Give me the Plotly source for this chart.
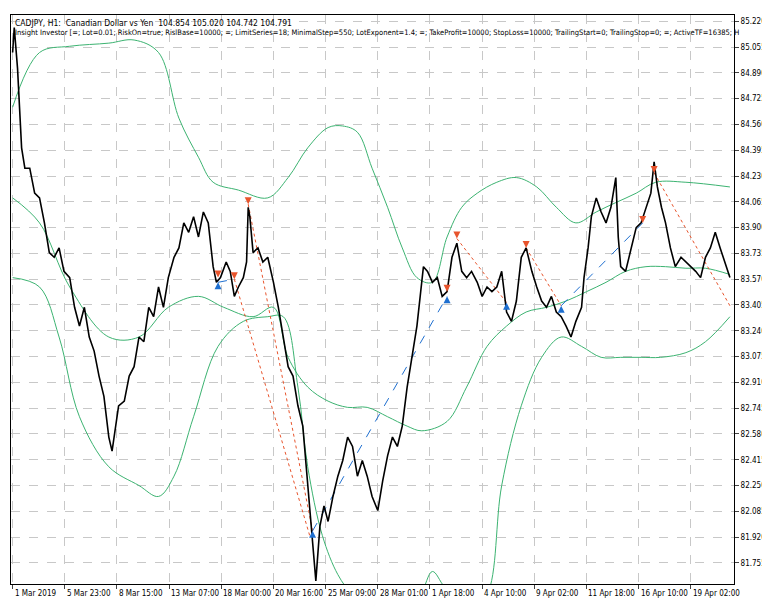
import plotly.graph_objects as go

price_x = [0,2,6,11,15,21,27,33,39,45,51,57,63,70,76,82,88,94,100,106,112,118,122,126,130,137,143,149,155,161,167,173,179,185,191,198,204,210,216,222,228,234,240,246,250,255,262,267,272,277,283,287,289,291,295,301,307,313,320,326,332,338,344,350,356,360,365,368,372,377,382,387,393,399,405,411,417,423,429,435,441,448,454,460,466,472,478,484,490,496,500,504,509,515,521,527,533,539,545,551,557,563,570,576,582,588,594,600,606,612,618,624,630,637,643,649,655,661,667,673,679,685,691,698,701,706,710,716,722,728,734,740,743,746,752,759,765,771,777,783,787,791,796,801,807,813,820,826,832,838,844,850,856,862,868,874,880]
price_y = [85.02,85.18,84.92,84.41,84.28,84.28,84.12,84.09,83.93,83.74,83.71,83.77,83.62,83.58,83.39,83.27,83.39,83.20,83.11,82.95,82.82,82.56,82.47,82.63,82.76,82.79,82.95,83.01,83.20,83.17,83.39,83.33,83.52,83.39,83.58,83.71,83.77,83.93,83.87,83.97,83.84,84.00,83.93,83.65,83.55,83.58,83.68,83.62,83.46,83.52,83.58,83.68,84.03,83.97,83.74,83.77,83.68,83.71,83.55,83.39,83.20,83.01,82.95,82.76,82.63,82.37,82.06,81.87,81.64,81.99,82.12,82.02,82.18,82.31,82.41,82.56,82.50,82.31,82.41,82.31,82.18,82.09,82.28,82.44,82.56,82.50,82.63,82.88,83.07,83.27,83.46,83.65,83.62,83.55,83.58,83.46,83.49,83.71,83.80,83.62,83.58,83.62,83.55,83.46,83.52,83.49,83.52,83.62,83.36,83.30,83.43,83.71,83.77,83.62,83.52,83.43,83.39,83.46,83.36,83.33,83.27,83.20,83.30,83.39,83.58,83.77,83.97,84.09,84.00,83.93,84.03,84.22,83.84,83.65,83.62,83.77,83.90,83.93,84.03,84.12,84.32,84.16,84.03,83.93,83.77,83.65,83.71,83.68,83.65,83.62,83.58,83.71,83.77,83.87,83.77,83.68,83.58]

upper_x = [0,33,70,118,149,179,204,228,246,277,313,338,362,387,405,423,441,460,478,496,515,533,551,570,594,618,643,667,691,716,740,765,789,826,880]
upper_y = [84.67,85.02,85.06,85.08,85.10,85.02,84.60,84.35,84.19,84.14,84.09,84.22,84.41,84.54,84.55,84.51,84.28,84.03,83.77,83.58,83.55,83.84,84.03,84.12,84.19,84.22,84.16,84.03,83.93,84.00,84.06,84.12,84.19,84.19,84.16]
mid_x = [0,33,70,118,155,191,228,259,295,320,338,362,387,411,435,460,484,502,533,557,582,606,630,655,679,704,728,752,777,801,826,850,880]
mid_y = [84.09,83.93,83.52,83.20,83.20,83.39,83.46,83.39,83.33,83.39,83.07,82.88,82.79,82.75,82.75,82.69,82.63,82.60,82.66,82.88,83.14,83.27,83.36,83.39,83.43,83.49,83.55,83.62,83.65,83.65,83.64,83.64,83.60]
lower_x = [0,33,57,82,118,155,179,198,222,252,283,313,332,350,362,380,399,417,440,470,500,515,530,560,582,600,624,649,673,698,722,746,771,795,826,850,880]
lower_y = [83.58,83.52,83.20,82.69,82.37,82.25,82.18,82.31,82.69,83.14,83.30,83.33,83.33,82.88,82.37,81.93,81.68,81.55,81.45,81.40,81.55,81.70,81.60,81.45,81.55,82.25,82.76,83.07,83.20,83.14,83.07,83.07,83.07,83.07,83.10,83.17,83.33]

sell_x = [289,272,252,533,545,630,773,787]
sell_y = [84.05,83.57,83.58,83.49,83.83,83.77,83.93,84.25]
buy_x = [252,368,606,673,533]
buy_y = [83.55,81.96,83.42,83.40,83.46]
red_lines = [((289,84.05),(368,81.96)),((272,83.57),(365,81.92)),((545,83.83),(606,83.42)),((630,83.77),(673,83.40)),((787,84.25),(880,83.40))]
blue_lines = [((368,81.96),(533,83.46)),((673,83.40),(773,83.93)),((252,83.55),(272,83.57))]

tick_pos = [0,64,128,192,256,320,384,448,512,576,640,704,768,832]
tick_txt = ["1 Mar 2019","5 Mar 23:00","8 Mar 15:00","13 Mar 07:00","18 Mar 00:00","20 Mar 16:00","25 Mar 09:00","28 Mar 01:00","1 Apr 18:00","4 Apr 10:00","9 Apr 02:00","11 Apr 18:00","16 Apr 10:00","19 Apr 02:00"]
y_ticks = [85.220,85.055,84.890,84.725,84.560,84.395,84.230,84.065,83.900,83.735,83.570,83.405,83.240,83.075,82.910,82.745,82.580,82.415,82.250,82.085,81.920,81.755]

green = "#3cb371"
fig = go.Figure()
for xs, ys in [(upper_x, upper_y), (mid_x, mid_y), (lower_x, lower_y)]:
    fig.add_trace(go.Scatter(x=xs, y=ys, mode="lines", line=dict(color=green, width=1, shape="spline"), hoverinfo="skip"))
for (a, b) in red_lines:
    fig.add_trace(go.Scatter(x=[a[0], b[0]], y=[a[1], b[1]], mode="lines", line=dict(color="#e8542c", width=1, dash="dot")))
for (a, b) in blue_lines:
    fig.add_trace(go.Scatter(x=[a[0], b[0]], y=[a[1], b[1]], mode="lines", line=dict(color="#1e6fd0", width=1, dash="dash")))
fig.add_trace(go.Scatter(x=price_x, y=price_y, mode="lines", line=dict(color="black", width=1.6)))
fig.add_trace(go.Scatter(x=sell_x, y=sell_y, mode="markers", marker=dict(symbol="arrow-down", size=7, color="#e8542c")))
fig.add_trace(go.Scatter(x=buy_x, y=buy_y, mode="markers", marker=dict(symbol="arrow-up", size=7, color="#1e6fd0")))

xlabels = [dict(x=p, y=0, xref="x", yref="paper", xanchor="left", yanchor="top", yshift=-3, showarrow=False,
                text=t, font=dict(size=8, family="DejaVu Sans Condensed")) for p, t in zip(tick_pos, tick_txt)]

grid = dict(showgrid=True, gridcolor="#c8c8c8", griddash="dash", gridwidth=1)
fig.update_layout(
    width=770, height=600, showlegend=False, plot_bgcolor="white", paper_bgcolor="white",
    margin=dict(l=3, r=44, t=7, b=24, autoexpand=False),
    font=dict(family="DejaVu Sans", size=8, color="black"),
    xaxis=dict(range=[-2, 885], tickvals=tick_pos, showticklabels=False, ticks="outside", ticklen=4,
               showline=True, linecolor="black", mirror=True, zeroline=False, automargin=False, **grid),
    yaxis=dict(range=[81.62, 85.26], side="right", tickvals=y_ticks, ticktext=[f"{v:.3f}" for v in y_ticks],
               ticks="outside", ticklen=4, automargin=False,
               showline=True, linecolor="black", mirror=True, zeroline=False,
               tickfont=dict(size=8, family="DejaVu Sans Condensed"), **grid),
    annotations=xlabels + [
        dict(x=0.003, y=0.999, xref="paper", yref="paper", xanchor="left", yanchor="top", showarrow=False,
             text="CADJPY, H1:  Canadian Dollar vs Yen  104.854 105.020 104.742 104.791",
             font=dict(size=8.5, family="DejaVu Sans Condensed")),
        dict(x=0.003, y=0.981, xref="paper", yref="paper", xanchor="left", yanchor="top", showarrow=False,
             text="Insight Investor [=; Lot=0.01; RiskOn=true; RislBase=10000; =; LimitSeries=18; MinimalStep=550; LotExponent=1.4; =; TakeProfit=10000; StopLoss=10000; TrailingStart=0; TrailingStop=0; =; ActiveTF=16385; H",
             font=dict(size=7.5, family="DejaVu Sans Condensed")),
    ],
)
fig.write_html("out.html")
